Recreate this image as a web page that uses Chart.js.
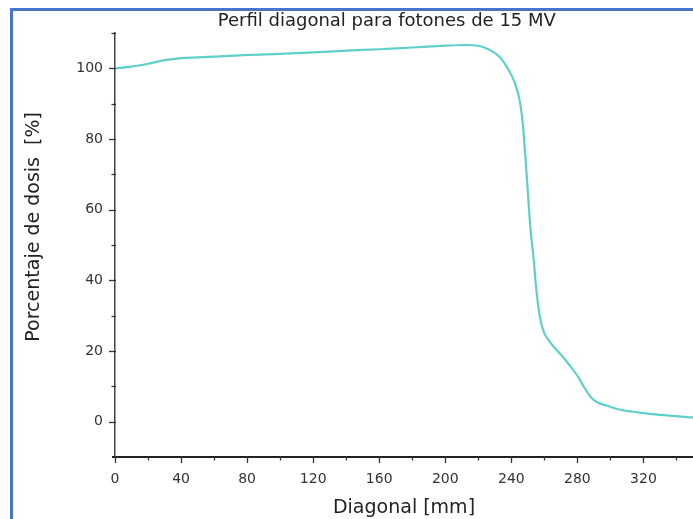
<!DOCTYPE html>
<html>
<head>
<meta charset="utf-8">
<script src="https://cdn.jsdelivr.net/npm/chart.js@4/dist/chart.umd.min.js"></script>
<style>
  html, body { margin: 0; padding: 0; background: #ffffff; }
  #wrap { position: relative; width: 693px; height: 519px; overflow: hidden; }
  #frame {
    position: absolute; left: 10px; top: 8px; width: 800px; height: 600px;
    border-left: 3px solid #4775cc; border-top: 3px solid #4775cc;
  }
  canvas { position: absolute; left: 0; top: 0; }
</style>
</head>
<body>
<div id="wrap">
  <div id="frame"></div>
  <canvas id="chart" width="693" height="519"></canvas>
</div>
<script>
// Diagonal dose profile, 15 MV photon beam
const diagonalMm = [0, 10, 20, 30, 40, 50, 60, 80, 100, 120, 140, 160, 180, 200, 212, 220, 226, 233, 238, 242, 245, 247, 248.5, 250, 251.5, 253.5, 255, 256.5, 258, 260, 263, 266, 270, 276, 280, 284, 288, 292, 298, 304, 314, 324, 336, 346, 350];
const dosePct    = [100, 100.5, 101.3, 102.3, 102.9, 103.1, 103.3, 103.8, 104.1, 104.5, 105.0, 105.4, 105.9, 106.4, 106.6, 106.4, 105.4, 103.2, 99.8, 96, 91, 84, 75, 65, 55, 46, 38, 32, 28, 25, 22.8, 21, 19, 15.5, 13, 9.8, 7, 5.5, 4.5, 3.6, 2.8, 2.2, 1.7, 1.3, 1.2];

const xTickLabels = [0, 40, 80, 120, 160, 200, 240, 280, 320];
const yTickLabels = [0, 20, 40, 60, 80, 100];

const chartTitle = 'Perfil diagonal para fotones de 15 MV';
const xTitle = 'Diagonal [mm]';
const yTitle = 'Porcentaje de dosis  [%]';

const points = diagonalMm.map((x, i) => ({ x: x, y: dosePct[i] }));
const axisColor = '#333333';
const font = 'DejaVu Sans';

// Major / minor tick marks drawn outward from each axis
const tickMarks = {
  id: 'tickMarks',
  afterDraw(chart) {
    const ctx = chart.ctx;
    const xs = chart.scales.x, ys = chart.scales.y;
    ctx.save();
    ctx.strokeStyle = axisColor;
    ctx.lineWidth = 1.3;
    xs.ticks.forEach(t => {
      const px = Math.round(xs.getPixelForValue(t.value)) + 0.5;
      const len = xTickLabels.includes(t.value) ? 6 : 3.5;
      ctx.beginPath();
      ctx.moveTo(px, xs.top - 1);
      ctx.lineTo(px, xs.top + len);
      ctx.stroke();
    });
    ys.ticks.forEach(t => {
      if (t.value === ys.min) return;
      const py = Math.round(ys.getPixelForValue(t.value)) + 0.5;
      const len = yTickLabels.includes(t.value) ? 6 : 3.5;
      ctx.beginPath();
      ctx.moveTo(ys.right + 1, py);
      ctx.lineTo(ys.right - len, py);
      ctx.stroke();
    });
    // x axis line runs a little past the y axis
    ctx.strokeStyle = '#222222';
    ctx.lineWidth = 2;
    ctx.beginPath();
    ctx.moveTo(xs.left - 3, xs.top);
    ctx.lineTo(xs.left, xs.top);
    ctx.stroke();
    ctx.restore();
  }
};

new Chart(document.getElementById('chart'), {
  type: 'scatter',
  data: {
    datasets: [{
      data: points,
      showLine: true,
      borderColor: '#5fd0c9',
      borderWidth: 2.2,
      pointRadius: 0,
      cubicInterpolationMode: 'monotone',
      fill: false
    }]
  },
  options: {
    responsive: false,
    animation: false,
    layout: { padding: 0 },
    plugins: {
      legend: { display: false },
      tooltip: { enabled: false },
      title: {
        display: true,
        fullSize: false,
        text: chartTitle + '      ',
        color: '#222222',
        font: { family: font, size: 18, weight: 'normal' },
        padding: { top: 11, bottom: 0.4 }
      }
    },
    scales: {
      x: {
        type: 'linear',
        min: 0, max: 350,
        grid: { display: false },
        border: { display: true, color: '#222222', width: 2 },
        afterFit(scale) { scale.height = 62; },
        ticks: {
          stepSize: 20,
          includeBounds: false,
          autoSkip: false,
          maxRotation: 0,
          padding: 6,
          color: '#333333',
          font: { family: font, size: 14 },
          callback: v => xTickLabels.includes(v) ? String(v) : ''
        },
        title: {
          display: true,
          text: xTitle,
          color: '#222222',
          font: { family: font, size: 19 },
          padding: { top: 0, bottom: 0 }
        }
      },
      y: {
        type: 'linear',
        min: -10, max: 110,
        grid: { display: false },
        border: { display: true, color: '#444444', width: 1.5 },
        afterFit(scale) { scale.width = 115; },
        ticks: {
          stepSize: 10,
          autoSkip: false,
          padding: 4,
          color: '#333333',
          font: { family: font, size: 14 },
          callback: v => yTickLabels.includes(v) ? String(v) : ''
        },
        title: {
          display: true,
          text: '      ' + yTitle,
          color: '#222222',
          font: { family: font, size: 19 },
          padding: { top: 23, bottom: 0 }
        }
      }
    }
  },
  plugins: [tickMarks]
});
</script>
</body>
</html>
